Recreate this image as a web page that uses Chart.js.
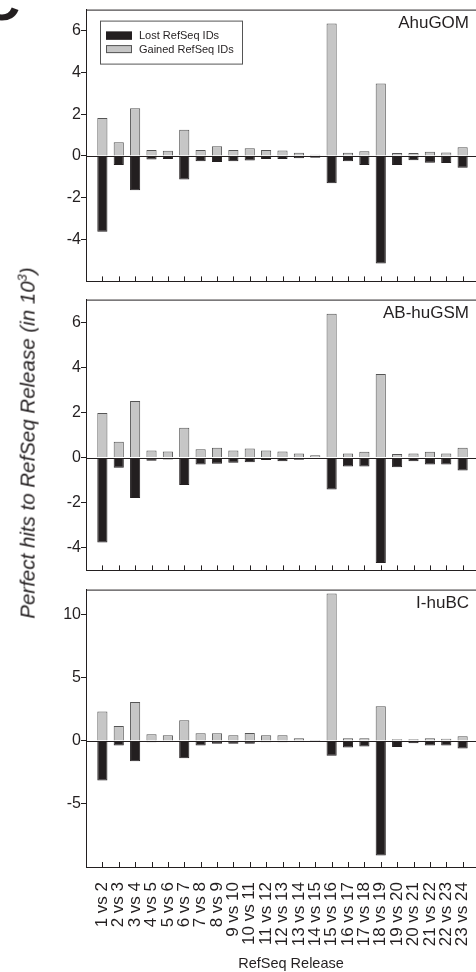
<!DOCTYPE html>
<html>
<head>
<meta charset="utf-8">
<script src="https://cdn.jsdelivr.net/npm/chart.js@4/dist/chart.umd.min.js"></script>
<style>
html, body { margin: 0; padding: 0; background: #fff; }
#fig { position: relative; width: 476px; height: 972px; overflow: hidden;
       font-family: 'Liberation Sans', Arial, sans-serif; color: #231f20; }
.panel { position: absolute; left: 0; width: 480px; }
#p1 { top: 0; height: 291px; }
#p2 { top: 290px; height: 290px; }
#p3 { top: 580px; height: 377px; }
#letter { position: absolute; left: -19px; top: -26px; font-size: 54px; line-height: 54px; font-weight: bold; }
#ytitle { position: absolute; left: 27px; top: 443px; font-size: 20.5px; font-style: italic;
          white-space: nowrap; transform: translate(-50%, -50%) rotate(-90deg); }
#xtitle { position: absolute; left: 291px; top: 963px; font-size: 14.5px;
          white-space: nowrap; transform: translate(-50%, -50%); }
</style>
</head>
<body>
<div id="fig">
  <div id="letter">C</div>
  <div class="panel" id="p1"><canvas id="c1" width="480" height="291"></canvas></div>
  <div class="panel" id="p2"><canvas id="c2" width="480" height="290"></canvas></div>
  <div class="panel" id="p3"><canvas id="c3" width="480" height="377"></canvas></div>
  <div id="ytitle">Perfect hits to RefSeq Release (in 10<sup style="font-size:13px">3</sup>)</div>
  <div id="xtitle">RefSeq Release</div>
</div>
<script>
var releases = ['1 vs 2', '2 vs 3', '3 vs 4', '4 vs 5', '5 vs 6', '6 vs 7', '7 vs 8', '8 vs 9',
    '9 vs 10', '10 vs 11', '11 vs 12', '12 vs 13', '13 vs 14', '14 vs 15', '15 vs 16', '16 vs 17',
    '17 vs 18', '18 vs 19', '19 vs 20', '20 vs 21', '21 vs 22', '22 vs 23', '23 vs 24'];

// AhuGOM (in 10^3)
var gained1 = [1.82, 0.65, 2.28, 0.28, 0.25, 1.25, 0.28, 0.46, 0.28, 0.37, 0.28, 0.26, 0.15, 0.06, 6.33, 0.15, 0.23, 3.47, 0.14, 0.14, 0.20, 0.17, 0.42];
var lost1 = [-3.63, -0.43, -1.64, -0.17, -0.14, -1.13, -0.25, -0.29, -0.25, -0.22, -0.14, -0.15, -0.11, -0.08, -1.31, -0.25, -0.43, -5.14, -0.43, -0.20, -0.32, -0.34, -0.57];
var ticks1 = [-4, -2, 0, 2, 4, 6];

// AB-huGSM
var gained2 = [1.97, 0.70, 2.51, 0.31, 0.27, 1.32, 0.37, 0.43, 0.31, 0.40, 0.31, 0.27, 0.18, 0.10, 6.37, 0.18, 0.26, 3.70, 0.16, 0.18, 0.26, 0.18, 0.43];
var lost2 = [-3.76, -0.45, -1.79, -0.14, -0.09, -1.22, -0.31, -0.27, -0.23, -0.21, -0.11, -0.16, -0.10, -0.06, -1.42, -0.40, -0.40, -4.67, -0.43, -0.16, -0.31, -0.31, -0.57];
var ticks2 = [-4, -2, 0, 2, 4, 6];

// I-huBC
var gained3 = [2.33, 1.19, 3.08, 0.52, 0.44, 1.63, 0.60, 0.60, 0.44, 0.62, 0.44, 0.44, 0.21, 0.08, 11.7, 0.21, 0.21, 2.75, 0.13, 0.13, 0.21, 0.18, 0.36];
var lost3 = [-3.13, -0.36, -1.61, -0.10, -0.05, -1.37, -0.36, -0.23, -0.23, -0.23, -0.10, -0.10, -0.05, -0.03, -1.17, -0.52, -0.44, -9.09, -0.49, -0.18, -0.36, -0.36, -0.60];
var ticks3 = [-5, 0, 5, 10];

var INK = '#231f20';
Chart.defaults.font.family = "'Liberation Sans', Arial, sans-serif";
Chart.defaults.color = INK;

// pad one empty slot at each end so the first bar sits one step in from the axis
function pad(arr, fill) {
    return [fill].concat(arr, [fill]);
}

// frame top line, zero line, inward x ticks, panel name and legend
var panelDeco = {
    id: 'panelDeco',
    afterDatasetsDraw: function(chart, args, opts) {
        var ctx = chart.ctx;
        var a = chart.chartArea;
        var xs = chart.scales.x;
        var y0 = Math.round(chart.scales.y.getPixelForValue(0)) + 0.5;

        ctx.save();
        ctx.strokeStyle = INK;
        ctx.lineWidth = 1;
        ctx.beginPath();
        ctx.moveTo(a.left, a.top + 0.5);
        ctx.lineTo(a.right, a.top + 0.5);
        ctx.moveTo(a.left, y0);
        ctx.lineTo(a.right, y0);
        for(var i = 1; i < xs.ticks.length - 1; i++) {
            var px = Math.round(xs.getPixelForTick(i)) + 0.5;
            ctx.moveTo(px, a.bottom);
            ctx.lineTo(px, a.bottom - 5);
        }
        ctx.stroke();

        ctx.font = "17px 'Liberation Sans', Arial, sans-serif";
        ctx.fillStyle = INK;
        ctx.textAlign = 'right';
        ctx.textBaseline = 'middle';
        ctx.fillText(opts.name, a.right - 10, a.top + 14);

        if(opts.legend) {
            var bx = a.left + 14, by = a.top + 11;
            ctx.strokeStyle = '#555';
            ctx.strokeRect(bx + 0.5, by + 0.5, 142, 43);
            ctx.font = "11px 'Liberation Sans', Arial, sans-serif";
            ctx.textAlign = 'left';
            var sets = chart.data.datasets;
            for(var k = 0; k < sets.length; k++) {
                var ry = by + 11 + k * 13.5;
                ctx.fillStyle = sets[k].backgroundColor;
                ctx.fillRect(bx + 6, ry, 26, 8);
                ctx.strokeStyle = sets[k].borderColor;
                ctx.strokeRect(bx + 6.5, ry + 0.5, 25, 7);
                ctx.fillStyle = INK;
                ctx.fillText(sets[k].label, bx + 39, ry + 4.5);
            }
        }
        ctx.restore();
    }
};

function makePanel(id, name, gained, lost, yMin, yMax, yTicks, showLabels, legend, padTop) {
    return new Chart(document.getElementById(id), {
        type: 'bar',
        data: {
            labels: pad(releases, ''),
            datasets: [{
                label: 'Lost RefSeq IDs',
                data: pad(lost, null),
                backgroundColor: INK,
                borderColor: INK,
                borderWidth: 1,
                barPercentage: 0.62,
                categoryPercentage: 1
            }, {
                label: 'Gained RefSeq IDs',
                data: pad(gained, null),
                backgroundColor: '#c6c6c6',
                borderColor: '#555',
                borderWidth: 1,
                barPercentage: 0.62,
                categoryPercentage: 1
            }]
        },
        plugins: [panelDeco],
        options: {
            responsive: false,
            animation: false,
            events: [],
            layout: { padding: { top: padTop, bottom: showLabels ? 0 : 2, left: 0, right: 1 } },
            plugins: {
                legend: { display: false },
                tooltip: { enabled: false },
                panelDeco: { name: name, legend: legend }
            },
            scales: {
                x: {
                    stacked: true,
                    offset: false,
                    grid: { display: false },
                    border: { display: true, color: INK, width: 1 },
                    ticks: {
                        display: showLabels,
                        autoSkip: false,
                        minRotation: 90,
                        maxRotation: 90,
                        padding: 7,
                        font: { size: 17 },
                        color: INK
                    },
                    afterFit: function(scale) {
                        scale.height = showLabels ? 90 : 0;
                        scale.paddingLeft = 0;
                        scale.paddingRight = 0;
                    }
                },
                y: {
                    stacked: true,
                    min: yMin,
                    max: yMax,
                    grid: { drawOnChartArea: false, drawTicks: true, tickLength: 5, tickColor: INK },
                    border: { display: true, color: INK, width: 1 },
                    ticks: { padding: 0, font: { size: 16 }, color: INK },
                    afterBuildTicks: function(scale) {
                        scale.ticks = yTicks.map(function(v) { return { value: v }; });
                    },
                    afterFit: function(scale) { scale.width = 86; }
                }
            }
        }
    });
}

makePanel('c1', 'AhuGOM', gained1, lost1, -6, 7, ticks1, false, true, 6);
makePanel('c2', 'AB-huGSM', gained2, lost2, -5, 7, ticks2, false, false, 5);
makePanel('c3', 'I-huBC', gained3, lost3, -10, 12, ticks3, true, false, 5);
</script>
</body>
</html>
